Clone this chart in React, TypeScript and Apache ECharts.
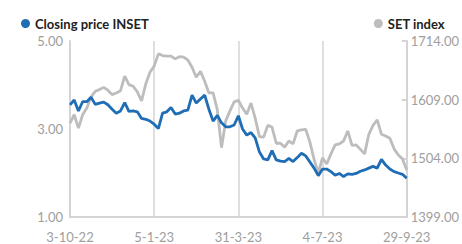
import React, { useEffect, useRef } from "react";
import * as echarts from "echarts";

const anchorDates = ["2022-10-03", "2023-01-05", "2023-03-31", "2023-07-04", "2023-09-29"];
const stepsPerSegment = 20;

const insetClose = [
  3.55, 3.66, 3.41, 3.62, 3.62, 3.72, 3.56, 3.59, 3.61, 3.55,
  3.45, 3.36, 3.41, 3.60, 3.40, 3.41, 3.39, 3.24, 3.22, 3.18,
  3.11, 3.01, 3.36, 3.39, 3.49, 3.34, 3.36, 3.41, 3.43, 3.77,
  3.59, 3.68, 3.77, 3.45, 3.18, 3.31, 3.14, 3.05, 3.05, 3.09,
  3.30, 3.00, 2.86, 2.92, 2.80, 2.48, 2.32, 2.30, 2.51, 2.30,
  2.27, 2.26, 2.33, 2.26, 2.35, 2.45, 2.39, 2.25, 2.11, 1.94,
  2.09, 2.09, 2.03, 1.95, 1.99, 1.92, 1.98, 1.97, 1.99, 2.04,
  2.07, 2.11, 2.15, 2.11, 2.31, 2.18, 2.09, 2.03, 2.00, 1.97,
  1.88,
];

const setIndex = [
  1567, 1582, 1558, 1582, 1594, 1614, 1624, 1627, 1631, 1626,
  1618, 1621, 1625, 1651, 1636, 1633, 1623, 1607, 1637, 1658,
  1669, 1691, 1688, 1687, 1687, 1682, 1686, 1685, 1680, 1667,
  1649, 1660, 1642, 1621, 1621, 1591, 1523, 1571, 1589, 1605,
  1608, 1594, 1583, 1603, 1576, 1543, 1542, 1563, 1560, 1531,
  1531, 1524, 1535, 1530, 1553, 1555, 1556, 1533, 1502, 1478,
  1505, 1494, 1512, 1528, 1530, 1535, 1553, 1527, 1528, 1520,
  1512, 1547, 1563, 1573, 1547, 1544, 1540, 1521, 1510, 1503,
  1483,
];

const leftTicks = { min: 1, max: 5, interval: 2 };
const rightTicks = { min: 1399, max: 1714, interval: 105 };

function fmtDate(t: number): string {
  const d = new Date(t);
  return `${d.getUTCDate()}-${d.getUTCMonth() + 1}-${String(d.getUTCFullYear()).slice(2)}`;
}

function buildCategories(): string[] {
  const out: string[] = [];
  const ts = anchorDates.map((s) => Date.parse(s + "T00:00:00Z"));
  const day = 86400000;
  for (let k = 0; k < ts.length - 1; k++) {
    const span = Math.round((ts[k + 1] - ts[k]) / day);
    for (let j = 0; j < stepsPerSegment; j++) {
      out.push(fmtDate(ts[k] + Math.round((j * span) / stepsPerSegment) * day));
    }
  }
  out.push(fmtDate(ts[ts.length - 1]));
  return out;
}

const categories = buildCategories();

export default function App() {
  const ref = useRef<HTMLDivElement>(null);
  useEffect(() => {
    if (!ref.current) return;
    const chart = echarts.init(ref.current, undefined, { renderer: "svg" });
    const labelColor = "#9e9e9e";
    const axisColor = "#d4d4d4";
    const font = "Lato";
    chart.setOption({
      animation: false,
      textStyle: { fontFamily: font },
      legend: [
        {
          data: ["Closing price INSET"],
          left: 16,
          top: 12,
          icon: "circle",
          itemWidth: 9,
          itemHeight: 9,
          itemGap: 4,
          textStyle: { color: "#222", fontSize: 13, fontWeight: "bold", fontFamily: font },
        },
        {
          data: ["SET index"],
          right: 12,
          top: 12,
          icon: "circle",
          itemWidth: 9,
          itemHeight: 9,
          textStyle: { color: "#222", fontSize: 13, fontWeight: "bold", fontFamily: font },
        },
      ],
      grid: { left: 70, right: 53, top: 41, bottom: 27, containLabel: false },
      xAxis: {
        type: "category",
        data: categories,
        boundaryGap: false,
        axisLine: { lineStyle: { color: axisColor, width: 2 } },
        axisTick: { show: false },
        axisLabel: {
          interval: stepsPerSegment - 1,
          color: labelColor,
          fontSize: 13,
          fontFamily: font,
          margin: 13,
          showMaxLabel: true,
        },
        splitLine: {
          show: true,
          interval: stepsPerSegment - 1,
          lineStyle: { color: axisColor, width: 1.5 },
        },
      },
      yAxis: [
        {
          type: "value",
          min: leftTicks.min,
          max: leftTicks.max,
          interval: leftTicks.interval,
          axisLine: { show: true, lineStyle: { color: axisColor, width: 2 } },
          axisTick: { show: false },
          splitLine: { show: false },
          axisLabel: {
            color: labelColor,
            fontSize: 13,
            fontFamily: font,
            margin: 7,
            formatter: (v: number) => v.toFixed(2),
          },
        },
        {
          type: "value",
          position: "right",
          min: rightTicks.min,
          max: rightTicks.max,
          interval: rightTicks.interval,
          axisLine: { show: true, lineStyle: { color: axisColor, width: 2 } },
          axisTick: { show: true, inside: true, length: 5, lineStyle: { color: axisColor, width: 2 } },
          splitLine: { show: false },
          axisLabel: {
            color: labelColor,
            fontSize: 13,
            fontFamily: font,
            margin: 4,
            formatter: (v: number) => v.toFixed(2),
          },
        },
      ],
      series: [
        {
          name: "SET index",
          type: "line",
          yAxisIndex: 1,
          data: setIndex,
          symbol: "none",
          lineStyle: { color: "#bdbdbd", width: 2.8 },
          itemStyle: { color: "#bdbdbd" },
          z: 2,
        },
        {
          name: "Closing price INSET",
          type: "line",
          yAxisIndex: 0,
          data: insetClose,
          symbol: "none",
          lineStyle: { color: "#1f6db4", width: 2.8 },
          itemStyle: { color: "#1f6db4" },
          z: 3,
        },
      ],
    });
    return () => chart.dispose();
  }, []);
  return <div ref={ref} style={{ width: 462, height: 244, position: "absolute", left: 0, top: 0 }} />;
}
